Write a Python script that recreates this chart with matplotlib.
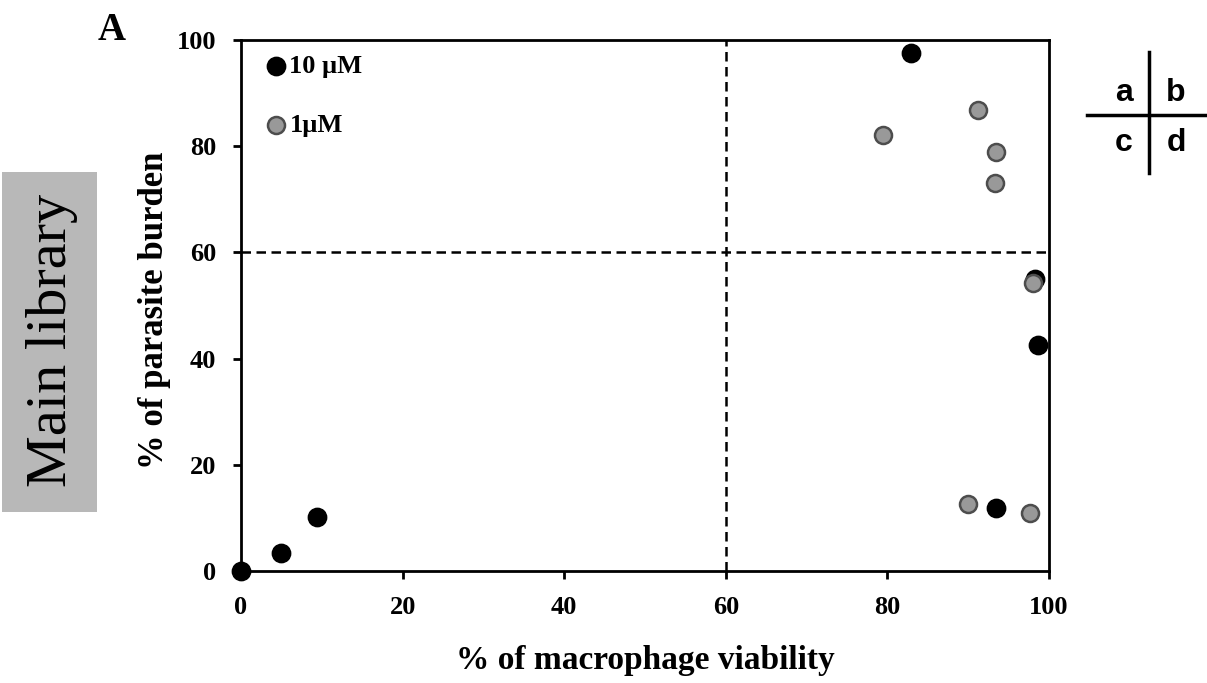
import matplotlib
matplotlib.use("Agg")
import matplotlib.pyplot as plt
from matplotlib.patches import Rectangle
from matplotlib.lines import Line2D

# Data
viability_10uM = [0.0, 5.0, 9.4, 82.9, 98.3, 98.6, 93.5]
burden_10uM = [0.0, 3.4, 10.2, 97.5, 55.0, 42.6, 11.8]
viability_1uM = [79.4, 91.2, 93.5, 93.3, 98.0, 90.0, 97.6]
burden_1uM = [82.2, 86.8, 79.0, 73.1, 54.3, 12.7, 11.0]
threshold_x = 60
threshold_y = 60
xticks = [0, 20, 40, 60, 80, 100]
yticks = [0, 20, 40, 60, 80, 100]
labels = ["10 \u00b5M", "1\u00b5M"]

serif = ["Liberation Serif", "DejaVu Serif"]

fig = plt.figure(figsize=(12.07, 6.83), dpi=100)
ax = fig.add_axes([241/1207, 1 - 571/683, 808/1207, 531/683])

ax.axvline(threshold_x, color="black", lw=1.8, ls=(0, (3.8, 2.2)), zorder=1)
ax.axhline(threshold_y, color="black", lw=1.8, ls=(0, (3.8, 2.2)), zorder=1)

s10 = ax.scatter(viability_10uM, burden_10uM, s=175, c="black", edgecolors="black",
                 linewidths=1, zorder=3, clip_on=False, label=labels[0])
s1 = ax.scatter(viability_1uM, burden_1uM, s=150, c="#999999", edgecolors="#4d4d4d",
                linewidths=1.8, zorder=4, clip_on=False, label=labels[1])

ax.set_xlim(0, 100)
ax.set_ylim(0, 100)
ax.set_xticks(xticks)
ax.set_yticks(yticks)
for sp in ax.spines.values():
    sp.set_linewidth(2)
ax.tick_params(axis="x", direction="out", length=6, width=2, pad=12)
ax.tick_params(axis="y", direction="out", length=6, width=2, pad=12)
for lab in ax.get_xticklabels() + ax.get_yticklabels():
    lab.set_fontfamily(serif)
    lab.set_fontweight("bold")
    lab.set_fontsize(19)

ax.set_xlabel("% of macrophage viability", fontsize=24, fontweight="bold",
              family=serif, labelpad=19)
ax.set_ylabel("% of parasite burden", fontsize=25, fontweight="bold",
              family=serif)
ax.yaxis.set_label_coords(-0.087, 0.49)

leg = ax.legend(handles=[s10, s1], loc="upper left", bbox_to_anchor=(0.006, 0.997),
                frameon=False, handletextpad=-0.15, labelspacing=1.35,
                handlelength=1.3, borderpad=0,
                prop={"family": serif, "weight": "bold", "size": 19})

# Panel letter
fig.text(112/1207, 1 - 30/683, "A", fontsize=28, fontweight="bold", family=serif,
         ha="center", va="center")

# Side label box
fig.patches.append(Rectangle((2/1207, 1 - 512/683), 95/1207, 340/683,
                             transform=fig.transFigure, facecolor="#b8b8b8",
                             edgecolor="none"))
fig.text(52/1207, 1 - 340/683, "Main library", fontsize=42, family=serif,
         rotation=90, ha="center", va="center")

# Quadrant key
fig.add_artist(Line2D([1087/1207, 1207/1207], [1 - 115/683, 1 - 115/683],
                      transform=fig.transFigure, color="black", lw=2.5))
fig.add_artist(Line2D([1149/1207, 1149/1207], [1 - 52/683, 1 - 173/683],
                      transform=fig.transFigure, color="black", lw=2.5))
for txt, x, y in [("a", 1124, 101), ("b", 1176, 101), ("c", 1124, 151), ("d", 1176, 151)]:
    fig.text(x/1207, 1 - y/683, txt, fontsize=23, fontweight="bold",
             family=["Liberation Sans", "DejaVu Sans"], ha="center", va="baseline")

fig.savefig("out.png", dpi=100)
